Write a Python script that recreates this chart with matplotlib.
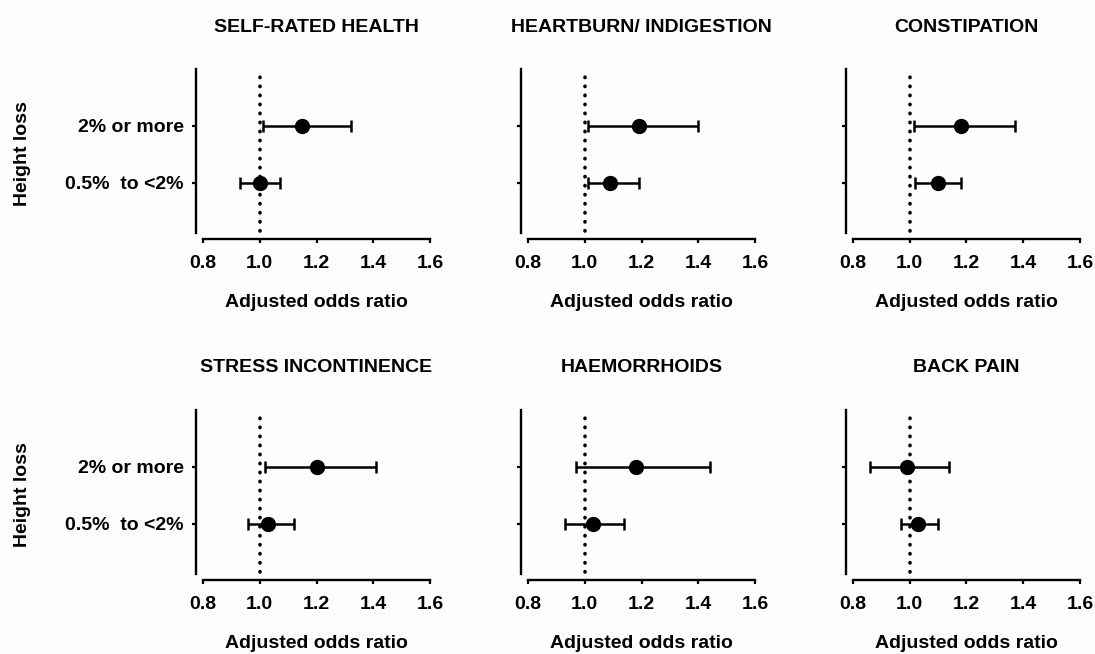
import numpy as np
import matplotlib.pyplot as plt

# Adjusted odds ratios (95% CI) for each outcome, by height-loss group
titles = ['SELF-RATED HEALTH', 'HEARTBURN/ INDIGESTION', 'CONSTIPATION',
          'STRESS INCONTINENCE', 'HAEMORRHOIDS', 'BACK PAIN']
groups = ['0.5%  to <2%', '2% or more']

or_high = [1.15, 1.19, 1.18, 1.20, 1.18, 0.99]
lo_high = [1.01, 1.01, 1.015, 1.02, 0.97, 0.86]
hi_high = [1.32, 1.40, 1.37, 1.41, 1.44, 1.14]

or_mid = [1.00, 1.09, 1.10, 1.03, 1.03, 1.03]
lo_mid = [0.93, 1.01, 1.02, 0.96, 0.93, 0.97]
hi_mid = [1.07, 1.19, 1.18, 1.12, 1.14, 1.10]

xticks = [0.8, 1.0, 1.2, 1.4, 1.6]

plt.rcParams['font.family'] = ['Liberation Sans', 'DejaVu Sans']
plt.rcParams['font.weight'] = 'bold'

W, H = 1095, 654
fig = plt.figure(figsize=(W / 100, H / 100), dpi=100, facecolor='#fdfdfd')

lefts = [203, 528, 853]
tops = [69, 410]
aw, ah = 227, 164
ypos = np.arange(1, len(groups) + 1)
fs = 14

for i, title in enumerate(titles):
    r, c = divmod(i, 3)
    ax = fig.add_axes([lefts[c] / W, 1 - (tops[r] + ah) / H, aw / W, ah / H])
    ax.set_facecolor('none')

    est = np.array([or_mid[i], or_high[i]])
    lo = np.array([lo_mid[i], lo_high[i]])
    hi = np.array([hi_mid[i], hi_high[i]])

    ax.axvline(1.0, color='black', lw=2.6, linestyle=(0, (0.1, 2.4)),
               dash_capstyle='round', ymin=0.01, ymax=0.99, zorder=1)
    ax.errorbar(est, ypos, xerr=[est - lo, hi - est], fmt='o', color='black',
                ms=10, elinewidth=1.8, capsize=4.5, capthick=1.8, zorder=3)

    ax.set_xlim(0.8, 1.6)
    ax.set_ylim(0.12, 3.0)
    ax.set_xticks(xticks)
    ax.set_xticklabels([f'{t:.1f}' for t in xticks])
    ax.set_yticks(ypos)
    if c == 0:
        ax.set_yticklabels(groups)
        fig.text(23 / W, 1 - (tops[r] + ah / 2 + 3) / H, 'Height loss',
                 rotation=90, ha='center', va='center', fontsize=fs)
    else:
        ax.set_yticklabels([])

    for side in ['top', 'right']:
        ax.spines[side].set_visible(False)
    ax.spines['left'].set_position(('outward', 5))
    ax.spines['bottom'].set_position(('outward', 4.5))
    for side in ['left', 'bottom']:
        ax.spines[side].set_linewidth(1.7)

    ax.tick_params(axis='both', direction='out', length=3, width=1.6,
                   labelsize=fs)
    ax.tick_params(axis='x', pad=8)
    ax.tick_params(axis='y', pad=6)

    ax.set_title(title, fontsize=fs, fontweight='bold', pad=27)
    ax.set_xlabel('Adjusted odds ratio', fontsize=fs, fontweight='bold',
                  labelpad=16)

fig.savefig('out.png', dpi=100, facecolor=fig.get_facecolor())
